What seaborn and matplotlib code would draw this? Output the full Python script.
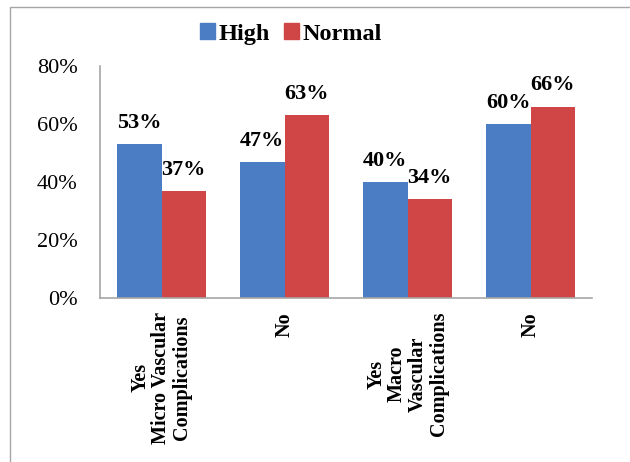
import matplotlib
matplotlib.use("Agg")
import matplotlib.pyplot as plt
import numpy as np
import pandas as pd
import seaborn as sns
from matplotlib.patches import Rectangle
from matplotlib.ticker import PercentFormatter

# chart data
category_keys = ["micro_yes", "micro_no", "macro_yes", "macro_no"]
category_labels = [
    "Yes\nMicro Vascular\nComplications",
    "No",
    "Yes\nMacro\nVascular\nComplications",
    "No",
]
series_names = ["High", "Normal"]
high_values = [53, 47, 40, 60]
normal_values = [37, 63, 34, 66]
y_ticks = [0, 20, 40, 60, 80]

colors = {"High": "#4a7dc4", "Normal": "#d04646"}

df = pd.DataFrame({
    "category": category_keys * 2,
    "group": ["High"] * 4 + ["Normal"] * 4,
    "value": high_values + normal_values,
})

sns.set_style("white")
plt.rcParams["font.family"] = ["Liberation Serif", "DejaVu Serif"]
plt.rcParams["text.color"] = "black"
plt.rcParams["xtick.color"] = "black"
plt.rcParams["ytick.color"] = "black"

fig = plt.figure(figsize=(6.3, 4.62), dpi=100)
ax = fig.add_axes([100 / 630, 1 - 298 / 462, 492 / 630, 232 / 462])

sns.barplot(
    data=df, x="category", y="value", hue="group", order=category_keys,
    hue_order=series_names, palette=colors, width=0.72, ax=ax,
    saturation=1, edgecolor="none", legend=False,
)

for container, vals in zip(ax.containers, [high_values, normal_values]):
    ax.bar_label(container, labels=[f"{v}%" for v in vals], padding=8,
                 fontsize=16, fontweight="bold", color="black")

ax.set_xlim(-0.5, 3.5)
ax.set_ylim(0, 80)
ax.set_yticks(y_ticks)
ax.yaxis.set_major_formatter(PercentFormatter(xmax=100, decimals=0))
ax.set_xticks(range(len(category_labels)))
ax.set_xticklabels(category_labels, rotation=90, fontweight="bold",
                   fontsize=14.5, va="top", ha="center",
                   multialignment="center", linespacing=1.05)
ax.tick_params(axis="y", length=0, pad=16, labelsize=16, labelcolor="black")
ax.tick_params(axis="x", length=0, pad=10, labelcolor="black")
ax.set_xlabel("")
ax.set_ylabel("")
for side in ["top", "right"]:
    ax.spines[side].set_visible(False)
for side in ["left", "bottom"]:
    ax.spines[side].set_color("#a6a6a6")
    ax.spines[side].set_linewidth(1.2)

handles = [Rectangle((0, 0), 1, 1, color=colors[s]) for s in series_names]
fig.legend(handles, series_names, loc="center", bbox_to_anchor=(291 / 630, 1 - 34 / 462),
           ncol=2, frameon=False, handlelength=0.6, handleheight=0.6,
           handletextpad=0.15, columnspacing=0.6,
           prop={"weight": "bold", "size": 17.5})

# outer chart border
fig.patches.append(Rectangle((10 / 630, -0.1), 1.1, 1 - 7 / 462 + 0.1,
                             transform=fig.transFigure, fill=False,
                             edgecolor="#a6a6a6", linewidth=1))

fig.savefig("out.png", dpi=100)
